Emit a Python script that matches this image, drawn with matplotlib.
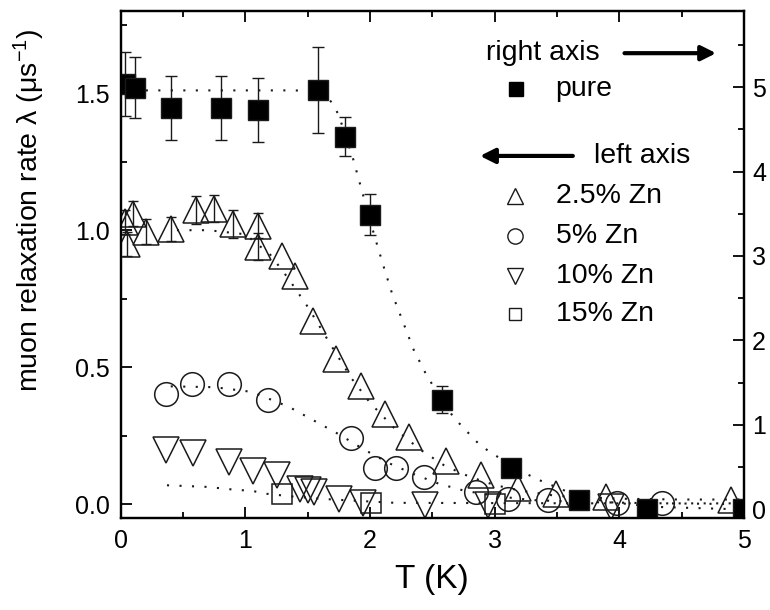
import matplotlib
matplotlib.use("Agg")
import matplotlib.pyplot as plt
from matplotlib.ticker import MultipleLocator

plt.rcParams["font.family"] = ["Liberation Sans", "DejaVu Sans"]
plt.rcParams["mathtext.fontset"] = "custom"
plt.rcParams["mathtext.rm"] = "Liberation Sans"
plt.rcParams["mathtext.it"] = "Liberation Sans:italic"

# pure (right axis)
pure_T = [0.03, 0.11, 0.40, 0.80, 1.10, 1.58, 1.80, 2.00, 2.58, 3.13, 3.68, 4.22, 4.99]
pure_v = [5.04, 4.99, 4.75, 4.75, 4.73, 4.96, 4.41, 3.49, 1.30, 0.49, 0.11, 0.01, 0.01]
pure_err = [0.38, 0.36, 0.38, 0.38, 0.38, 0.51, 0.23, 0.24, 0.16, 0.0, 0.0, 0.0, 0.0]
pure_fit_T = [0.2, 0.6, 1.0, 1.4, 1.6, 1.7, 1.75, 1.86, 1.92, 2.0, 2.045, 2.11, 2.18, 2.22,
              2.35, 2.46, 2.67, 2.87, 2.97, 3.27, 3.37, 3.6, 3.9, 4.3, 5.0]
pure_fit_v = [4.96, 4.96, 4.96, 4.96, 4.94, 4.81, 4.66, 4.17, 3.85, 3.42, 3.19, 2.87, 2.54, 2.39,
              1.89, 1.57, 1.09, 0.78, 0.67, 0.41, 0.34, 0.2, 0.09, 0.03, 0.0]

# 2.5% Zn
zn25_T = [0.03, 0.05, 0.10, 0.20, 0.40, 0.60, 0.75, 0.90, 1.10, 1.10, 1.29, 1.40, 1.54,
          1.73, 1.93, 2.12, 2.31, 2.61, 2.89, 3.19, 3.49, 3.89, 4.90]
zn25_l = [1.03, 0.95, 1.06, 0.995, 1.004, 1.073, 1.079, 1.022, 1.016, 0.94, 0.907, 0.834, 0.667,
          0.53, 0.43, 0.33, 0.245, 0.158, 0.107, 0.06, 0.039, 0.028, 0.015]
zn25_err = [0.045, 0.045, 0.045, 0.045, 0.045, 0.05, 0.05, 0.05, 0.045, 0.05, 0.0, 0.0, 0.0,
            0.0, 0.0, 0.0, 0.0, 0.0, 0.0, 0.0, 0.0, 0.0, 0.0]
zn25_fit_T = [0.45, 0.7, 1.0, 1.2, 1.35, 1.5, 1.7, 1.85, 2.0, 2.2, 2.4, 2.6, 2.8, 3.0, 3.2,
              3.5, 4.0, 4.5, 5.0]
zn25_fit_l = [1.0, 1.0, 0.985, 0.91, 0.82, 0.72, 0.57, 0.46, 0.37, 0.275, 0.20, 0.14, 0.10,
              0.07, 0.05, 0.03, 0.02, 0.017, 0.017]

# 5% Zn
zn5_T = [0.36, 0.57, 0.87, 1.18, 1.85, 2.04, 2.21, 2.43, 2.85, 3.11, 3.43, 3.98, 4.34]
zn5_l = [0.403, 0.44, 0.438, 0.38, 0.24, 0.132, 0.132, 0.098, 0.045, 0.018, 0.015, 0.005, 0.005]
zn5_fit_T = [0.4, 0.75, 1.05, 1.35, 1.55, 1.75, 1.95, 2.15, 2.35, 2.55, 2.75, 3.0, 3.3, 3.7, 4.2, 5.0]
zn5_fit_l = [0.43, 0.427, 0.41, 0.355, 0.305, 0.255, 0.20, 0.15, 0.11, 0.075, 0.05, 0.03, 0.015,
             0.008, 0.004, 0.0]

# 10% Zn
zn10_T = [0.36, 0.575, 0.87, 1.06, 1.25, 1.435, 1.50, 1.55, 1.75, 1.94, 2.44, 2.95, 3.93]
zn10_l = [0.197, 0.186, 0.154, 0.121, 0.107, 0.056, 0.051, 0.044, 0.018, 0.003, -0.004, -0.004, -0.01]
zn10_fit_T = [0.37, 0.7, 0.86, 1.06, 1.17, 1.4, 1.7, 2.2, 3.0, 4.0, 5.0]
zn10_fit_l = [0.069, 0.063, 0.055, 0.048, 0.038, 0.027, 0.017, 0.005, 0.004, 0.003, 0.003]

# 15% Zn
zn15_T = [1.29, 2.01, 3.00]
zn15_l = [0.036, 0.005, -0.001]

EDGE = "#1a1a1a"
DOT = (0, (1, 5))


def with_err(xs, ys, es):
    keep = [(x, y, e) for x, y, e in zip(xs, ys, es) if e > 0]
    return [k[0] for k in keep], [k[1] for k in keep], [k[2] for k in keep]


def main():
    fig = plt.figure(figsize=(7.7, 6.1), dpi=100)
    ax = fig.add_axes([0.157, 0.151, 0.809, 0.831])
    ax2 = ax.twinx()

    # fits (dotted)
    ax.plot(zn25_fit_T, zn25_fit_l, ls=DOT, lw=1.5, color=EDGE)
    ax.plot(zn5_fit_T, zn5_fit_l, ls=DOT, lw=1.5, color=EDGE)
    ax.plot(zn10_fit_T, zn10_fit_l, ls=DOT, lw=1.5, color=EDGE)
    ax2.plot(pure_fit_T, pure_fit_v, ls=DOT, lw=1.5, color=EDGE)

    ex, ey, ee = with_err(zn25_T, zn25_l, zn25_err)
    ax.errorbar(ex, ey, yerr=ee, fmt="none", ecolor=EDGE, elinewidth=1.0,
                capsize=3.5, capthick=1.0)
    ax.plot(zn25_T, zn25_l, "^", ms=19, mfc="none", mec=EDGE, mew=1.1)
    ax.plot(zn5_T, zn5_l, "o", ms=17, mfc="none", mec=EDGE, mew=1.1)
    ax.plot(zn10_T, zn10_l, "v", ms=18.5, mfc="none", mec=EDGE, mew=1.1)
    ax.plot(zn15_T, zn15_l, "s", ms=14.5, mfc="none", mec=EDGE, mew=1.1)

    ex, ey, ee = with_err(pure_T, pure_v, pure_err)
    ax2.errorbar(ex, ey, yerr=ee, fmt="none", ecolor=EDGE, elinewidth=1.0,
                 capsize=4.5, capthick=1.0)
    ax2.plot(pure_T, pure_v, "s", ms=15, mfc="black", mec=EDGE)

    ax.set_xlim(0, 5)
    ax.set_ylim(-0.05, 1.8)
    ax2.set_ylim(-0.1, 5.9)

    ax.xaxis.set_major_locator(MultipleLocator(1))
    ax.xaxis.set_minor_locator(MultipleLocator(0.5))
    ax.yaxis.set_major_locator(MultipleLocator(0.5))
    ax.yaxis.set_minor_locator(MultipleLocator(0.25))
    ax2.yaxis.set_major_locator(MultipleLocator(1))
    ax2.yaxis.set_minor_locator(MultipleLocator(0.5))
    ax.yaxis.set_major_formatter(plt.FormatStrFormatter("%.1f"))

    ax.tick_params(which="both", direction="in", top=True, right=False, width=1.3,
                   labelsize=18, pad=8)
    ax.tick_params(which="major", length=8)
    ax.tick_params(which="minor", length=4.5)
    ax2.tick_params(which="both", direction="in", width=1.3, labelsize=18, pad=6)
    ax2.tick_params(which="major", length=8)
    ax2.tick_params(which="minor", length=4.5)
    for a in (ax, ax2):
        for s in a.spines.values():
            s.set_linewidth(1.6)

    ax.set_xlabel("T (K)", fontsize=24, labelpad=8)
    ax.set_ylabel(r"muon relaxation rate λ (μs$^{-1}$)", fontsize=20.5)
    ax.yaxis.set_label_coords(-0.119, 0.607)

    # in-plot legend
    ax.text(3.84, 1.646, "right axis", fontsize=20.5, ha="right", va="center")
    ax.annotate("", xy=(4.80, 1.646), xytext=(4.02, 1.646),
                arrowprops=dict(arrowstyle="-|>", lw=3, color="black", mutation_scale=22))
    ax.plot([3.17], [1.514], "s", ms=10, color="black")
    ax.text(3.49, 1.514, "pure", fontsize=20.5, va="center")
    ax.annotate("", xy=(2.86, 1.271), xytext=(3.65, 1.271),
                arrowprops=dict(arrowstyle="-|>", lw=3, color="black", mutation_scale=22))
    ax.text(3.80, 1.271, "left axis", fontsize=20.5, va="center")

    leg_markers = ["^", "o", "v", "s"]
    leg_labels = ["2.5% Zn", "5% Zn", "10% Zn", "15% Zn"]
    leg_y = [1.125, 0.98, 0.834, 0.694]
    for m, lab, yy in zip(leg_markers, leg_labels, leg_y):
        ax.plot([3.16], [yy], m, ms=11 if m != "s" else 9, mfc="none", mec=EDGE, mew=1.0)
        ax.text(3.49, yy, lab, fontsize=20.5, va="center")

    fig.savefig("out.png", dpi=100)


if __name__ == "__main__":
    main()
